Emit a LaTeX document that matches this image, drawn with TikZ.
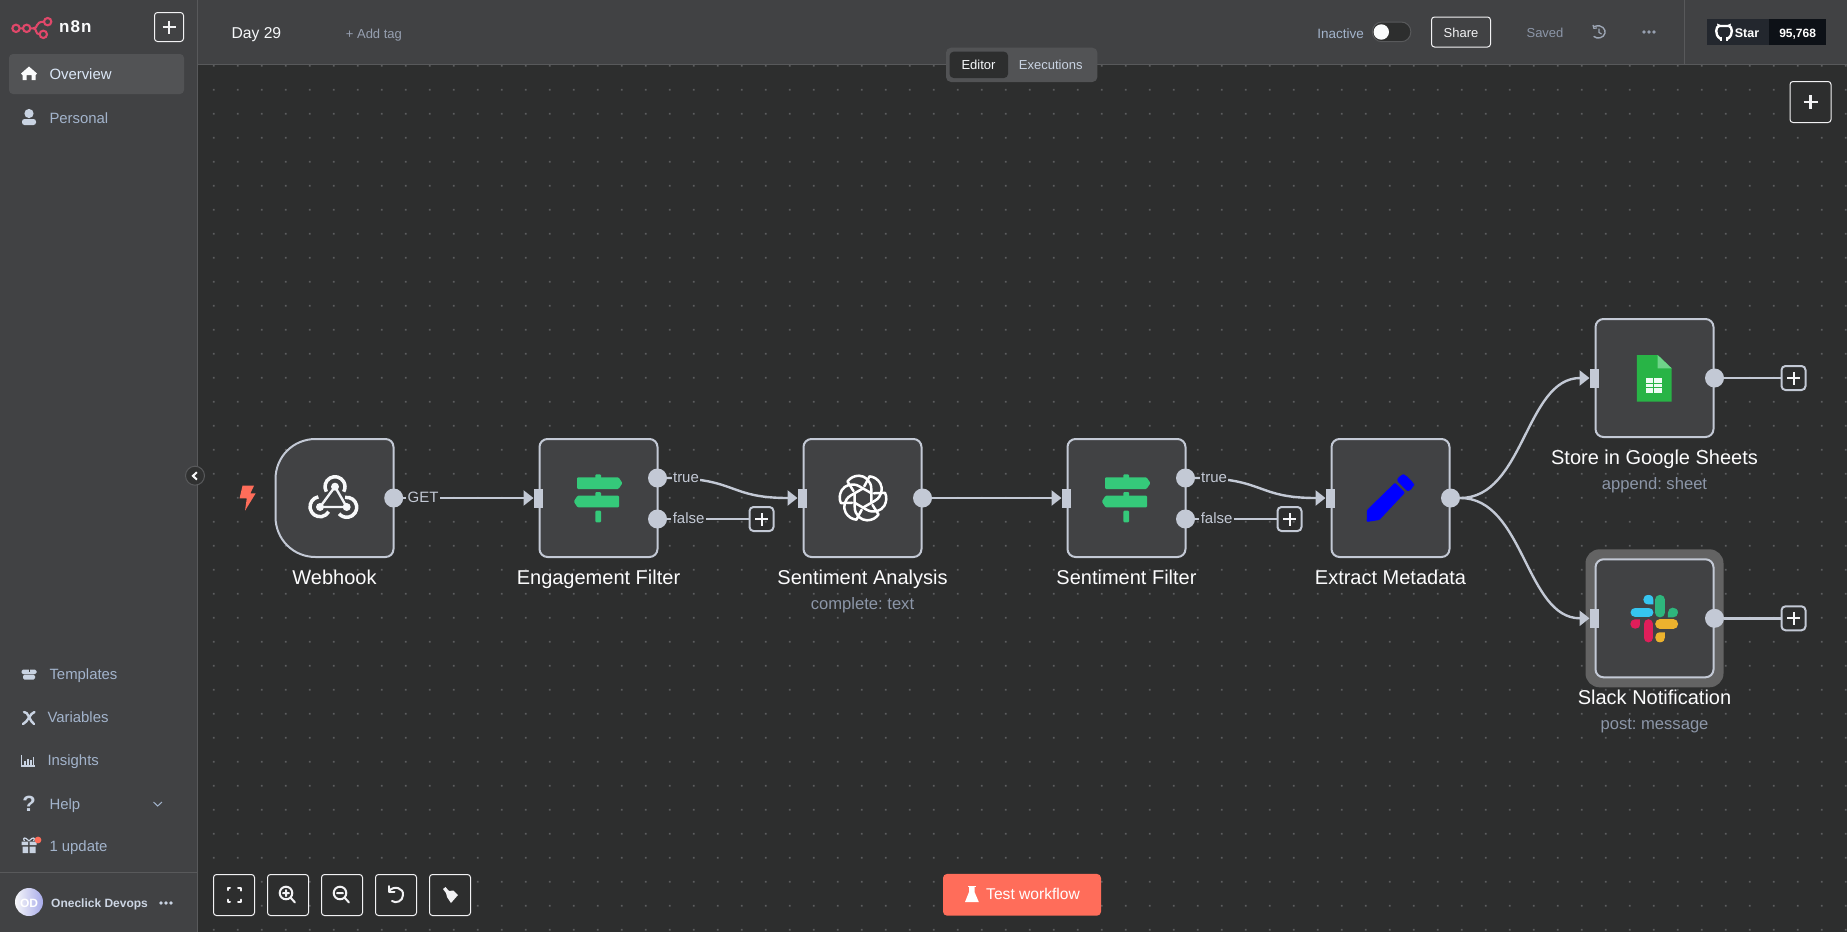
\documentclass[tikz,border=0pt]{standalone}
\usepackage{fontspec}
\setmainfont{Liberation Sans}
\usetikzlibrary{arrows.meta,calc}
\AtBeginDocument{\frenchspacing}
\definecolor{canvasc}{HTML}{2D2E2E}
\definecolor{panelc}{HTML}{414244}
\definecolor{linec}{HTML}{58595B}
\definecolor{dotc}{HTML}{5C5D5E}
\definecolor{wirec}{HTML}{C3C9D5}
\definecolor{subc}{HTML}{8C96A8}
\definecolor{navc}{HTML}{A3B4CC}
\definecolor{navhi}{HTML}{DCE8F8}
\definecolor{hic}{HTML}{525355}
\definecolor{redc}{HTML}{FF6D5A}
\definecolor{logoc}{HTML}{E0486A}
\definecolor{ifc}{HTML}{35C97A}
\definecolor{halo}{HTML}{636363}
\definecolor{iconc}{HTML}{C9D3E2}
\definecolor{btnc}{HTML}{F2F2F4}
\definecolor{starc}{HTML}{23272E}
\definecolor{cntc}{HTML}{0D1117}
\definecolor{gsg}{HTML}{28B446}
\definecolor{gsf}{HTML}{6FD48A}
\definecolor{slb}{HTML}{36C5F0}
\definecolor{slg}{HTML}{2EB67D}
\definecolor{sly}{HTML}{ECB22E}
\definecolor{slr}{HTML}{E01E5A}
\newcommand\fsz[1]{\fontsize{#1}{#1}\selectfont}
\tikzset{
  wf/.style={draw=wirec,line width=2pt,fill=panelc,rounded corners=8pt,minimum width=118pt,minimum height=118pt,inner sep=0pt},
  ghost/.style={minimum width=118pt,minimum height=118pt,inner sep=0pt},
  outp/.style={circle,fill=wirec,minimum size=19pt,inner sep=0pt},
  inp/.style={rectangle,fill=wirec,minimum width=9.6pt,minimum height=19pt,inner sep=0pt},
  wire/.style={draw=wirec,line width=2.4pt},
  wirea/.style={wire,-{Triangle[length=10pt,width=15pt]}},
  plusbox/.style={draw=wirec,line width=2pt,rounded corners=4pt,minimum size=24pt,inner sep=0pt,
    path picture={\draw[white!85!wirec,line width=2pt] ([xshift=-6.5pt]path picture bounding box.center) -- ([xshift=6.5pt]path picture bounding box.center) ([yshift=-6.5pt]path picture bounding box.center) -- ([yshift=6.5pt]path picture bounding box.center);}},
  txm/.style={anchor=mid,inner sep=0pt,yshift=-2.5pt},
  txw/.style={anchor=mid west,inner sep=0pt,yshift=-2.5pt},
  title/.style={anchor=mid,inner sep=0pt,yshift=-4.6pt,text=white!95!wirec,font=\fsz{20}},
  subt/.style={txm,yshift=-0.5pt,text=subc,font=\fsz{16.6}},
  elab/.style={anchor=mid,inner sep=1.5pt,yshift=-2pt,fill=canvasc,text=wirec,font=\fsz{15}},
  nav/.style={txw,text=navc,font=\fsz{14.9}},
  btn/.style={draw=btnc,line width=1pt,rounded corners=3pt,fill=canvasc,inner sep=0pt},
  ico/.style={draw=btnc,line width=2pt,line cap=round,line join=round},
  zo/.style={shift={#1},x=0.3333pt,y=-0.3333pt},
}
\begin{document}
\begin{tikzpicture}[x=1pt,y=-1pt]
\useasboundingbox (0,0) rectangle (1847,932);
% canvas
\fill[canvasc] (0,0) rectangle (1847,932);
\fill[dotc] \foreach \i in {0,...,68}{\foreach \j in {0,...,36}{ ({212.9+24*\i},{64.9+24*\j}) rectangle ++(1.8,1.8)}};
% top bar and sidebar
\fill[panelc] (197,0) rectangle (1847,64);
\draw[linec,line width=1pt] (197,64.4) -- (1847,64.4);
\draw[linec,line width=1pt] (1684.6,0) -- (1684.6,64);
\fill[panelc] (0,0) rectangle (197,932);
\draw[linec,line width=1pt] (197,0) -- (197,932);
% logo
\begin{scope}[zo={(0,0)}]
\draw[logoc,line width=2.1pt] (48,85) circle (11) (80,85) circle (11) (143,65) circle (11) (130,103) circle (11);
\draw[logoc,line width=2.1pt] (59,85) -- (69,85) (91,85) -- (100,85) .. controls (116,85) and (104,65) .. (132,65) (100,85) .. controls (112,85) and (104,103) .. (119,103);
\end{scope}
\node[txw,text=white!92!wirec,font=\fsz{17}\bfseries] (brand) at (59,27.5) {n\kern1pt 8\kern1pt n};
\node[btn,fill=none,draw=btnc,minimum size=29pt] (newb) at (169,27) {};
\draw[btnc,line width=2.4pt] (162.5,27) -- (175.5,27) (169,20.5) -- (169,33.5);
% nav
\fill[hic,rounded corners=4pt] (9,54) rectangle (184,94);
\node[nav,text=navhi] (nov) at (49.3,74.3) {Overview};
\node[nav] (npe) at (49.3,118) {Personal};
\node[nav] (nte) at (49.3,674.7) {Templates};
\node[nav] (nva) at (47.3,717.7) {Variables};
\node[nav] (nin) at (47.3,760.7) {Insights};
\node[nav] (nhe) at (49.3,804) {Help};
\node[nav] (nup) at (49.3,846) {1 update};
\node[nav,text=iconc!95!white,font=\fsz{12}\bfseries] (nod) at (51,902.7) {Oneclick Devops};
% nav icons
\fill[white!92!wirec] (21,73.5) -- (29,66.5) -- (37,73.5) -- (35.5,75) -- (35.5,80) -- (31.5,80) -- (31.5,75) -- (26.5,75) -- (26.5,80) -- (22.5,80) -- (22.5,75) -- cycle;
\fill[iconc] (29,113.5) circle (4.6);
\fill[iconc,rounded corners=2.5pt] (22,125) rectangle (36,119);
\fill[iconc,rounded corners=1.5pt] (21.5,669.5) rectangle (36.5,674);
\fill[iconc,rounded corners=1.5pt] (23,674.5) rectangle (35,679.5);
\draw[panelc,line width=1pt] (29,668) -- (29,672);
\draw[iconc,line width=2.4pt,line cap=round] (24,712) .. controls (28,711) and (30,722) .. (34,724);
\draw[iconc,line width=2.4pt,line cap=round] (34.5,712) .. controls (30,713) and (28,722) .. (23,724);
\draw[iconc,line width=1.2pt] (21.5,755) -- (21.5,766) -- (35,766);
\draw[iconc,line width=1.4pt] (25,765) -- (25,761) (28,765) -- (28,758.5) (31,765) -- (31,760) (33.5,765) -- (33.5,757);
\node[txm,text=iconc,font=\fsz{22}\bfseries,yshift=-2.5pt] (qm) at (29,804) {?};
\draw[navc,line width=1pt] (153.5,802) -- (157.7,806) -- (162,802);
\fill[iconc] (21.5,841.5) rectangle (28,845) (29.5,841.5) rectangle (36.5,845) (22.5,846.5) rectangle (28,853) (29.5,846.5) rectangle (35.5,853);
\draw[iconc,line width=1.2pt] (29,841) .. controls (25,836) and (22,838) .. (24.5,841) (29,841) .. controls (33,836) and (36,838) .. (33.5,841);
\fill[redc] (38,840) circle (3.4);
\draw[linec,line width=1pt] (0,872.3) -- (197,872.3);
\shade[left color=white!85!wirec,right color=white!55!blue!50!wirec,draw=none] (29,902) circle (14);
\node[txm,text=white,font=\fsz{12}\bfseries] (odt) at (29,902) {OD};
\fill[iconc] (161,903) circle (1.9) (166,903) circle (1.9) (171,903) circle (1.9);
% collapse
\draw[linec,fill=canvasc!85!panelc,line width=1pt] (195,475.7) circle (9.5);
\draw[white!90!wirec,line width=2pt] (196.9,472.2) -- (192.9,475.9) -- (196.9,479.6);
% header texts
\node[txw,text=white!90!navc,font=\fsz{15.7}] (day) at (231.3,33) {Day 29};
\node[txw,text=subc!90!white,font=\fsz{13}] (addt) at (345.7,33) {+ Add tag};
\fill[hic,rounded corners=5pt] (946,47.7) rectangle (1097.4,82);
\fill[canvasc,rounded corners=4pt] (949.6,51.7) rectangle (1008,78);
\node[txm,text=white!90!navc,font=\fsz{13}] (sed) at (978.5,64.7) {Editor};
\node[txm,text=iconc,font=\fsz{13}] (sex) at (1050.7,64.7) {Executions};
\node[txm,text=navc,font=\fsz{13.5}] (ina) at (1340.5,33) {Inactive};
\draw[linec,fill=canvasc,line width=1pt,rounded corners=9.5pt] (1372.4,22) rectangle (1410.8,41.7);
\fill[white!95!navc] (1381.3,32) circle (7.7);
\node[btn,fill=panelc,minimum width=59pt,minimum height=30pt] (sha) at (1461,32) {};
\node[txm,text=btnc,font=\fsz{13}] (shat) at (1461,32) {Share};
\node[txm,text=subc,font=\fsz{13}] (sav) at (1545,32) {Saved};
\draw[subc!85!white,line width=1.4pt,line cap=round] (1594.5,26.5) .. controls (1602,23.5) and (1606,30) .. (1605,33) .. controls (1604,38) and (1597,39.5) .. (1594,36.5);
\draw[subc!85!white,line width=1.2pt] (1593,25) -- (1593.8,28.3) -- (1597,28) (1599,28.5) -- (1599,32.5) -- (1601.5,34);
\fill[subc!90!white] (1644,32) circle (1.9) (1649,32) circle (1.9) (1654,32) circle (1.9);
\fill[starc] (1706.5,18.7) rectangle (1768.6,45);
\fill[cntc] (1768.6,18.7) rectangle (1826,45);
% github mark
\draw[white,line width=2.4pt] (1720.5,38.8) .. controls (1714,35) and (1716,26) .. (1719,26) -- (1729,26) .. controls (1732,26) and (1734,35) .. (1727.5,38.8);
\fill[white] (1717,23.5) -- (1721.5,25.5) -- (1718,28) -- cycle (1731,23.5) -- (1726.5,25.5) -- (1730,28) -- cycle;
\draw[white,line width=2pt] (1721,36.5) -- (1721,40.5) (1727,36.5) -- (1727,40.5);
\node[txm,text=white,font=\fsz{12.5}\bfseries] (star) at (1747,32) {Star};
\node[txm,text=white,font=\fsz{12}\bfseries] (cnt) at (1797.6,32) {95,768};
% top-right plus
\node[btn,minimum width=41pt,minimum height=41pt] (addn) at (1810.5,102) {};
\draw[btnc,line width=2.4pt] (1803.5,102) -- (1817.5,102) (1810.5,95) -- (1810.5,109);
% bottom toolbar
\foreach \n/\cx in {b1/234,b2/288,b3/342,b4/396,b5/450}{\node[btn,minimum size=41pt] (\n) at (\cx,895) {};}
\draw[ico] (227.5,890) -- (227.5,888) -- (230,888) (238,888) -- (240.5,888) -- (240.5,890.5) (240.5,899.5) -- (240.5,902) -- (238,902) (230,902) -- (227.5,902) -- (227.5,899.5);
\draw[ico] (286,893) circle (6.3) (290.5,897.5) -- (295,902.5) (283,893) -- (289,893) (286,890) -- (286,896);
\draw[ico] (340,893) circle (6.3) (344.5,897.5) -- (349,902.5) (337,893) -- (343,893);
\draw[ico] (389,891) .. controls (394,885) and (404,888) .. (403,895) .. controls (403,901) and (396,904) .. (392,901);
\draw[ico] (389,886) -- (389,891.5) -- (394.5,891.5);
\fill[btnc] (443,889) -- (445.5,887) -- (449,891) -- (453.5,890.5) -- (458,895) -- (451,903) -- (447,897) -- (446,893) -- cycle;
% test button
\node[fill=redc,rounded corners=4pt,minimum width=158pt,minimum height=41.7pt,inner sep=0pt] (tb) at (1022,894.8) {};
\node[txw,text=white,font=\fsz{15.6}] (tbt) at (986,894.5) {Test workflow};
\fill[white] (969,886) -- (974.5,886) -- (974.5,892) -- (978.8,902) -- (965,902) -- (969,892) -- cycle;
\draw[white,line width=1pt] (968,886) -- (975.5,886);
% workflow nodes
\node[ghost] (wh) at (334.5,498) {};
\draw[draw=wirec,line width=2pt,fill=panelc] (315.5,439) -- (385.5,439) .. controls (390,439) and (393.5,442.5) .. (393.5,447) -- (393.5,549) .. controls (393.5,553.5) and (390,557) .. (385.5,557) -- (315.5,557) .. controls (293,557) and (275.5,539) .. (275.5,517) -- (275.5,479) .. controls (275.5,457) and (293,439) .. (315.5,439) -- cycle;
\node[wf] (ef) at (598.5,498) {};
\node[wf] (sa) at (862.5,498) {};
\node[wf] (sf) at (1126.5,498) {};
\node[wf] (em) at (1390.5,498) {};
\node[wf] (gs) at (1654.5,378) {};
\node[fill=halo,rounded corners=14pt,minimum width=138pt,minimum height=138pt,inner sep=0pt] (sh) at (1654.5,618.3) {};
\node[wf] (sl) at (1654.5,618.3) {};
% titles
\node[title] (t1) at (334.5,577.7) {Webhook};
\node[title] (t2) at (598.5,577.7) {Engagement Filter};
\node[title] (t3) at (862.5,577.7) {Sentiment Analysis};
\node[subt] (s3) at (862.5,604) {complete: text};
\node[title] (t4) at (1126.5,577.7) {Sentiment Filter};
\node[title] (t5) at (1390.5,577.7) {Extract Metadata};
\node[title] (t6) at (1654.5,457.7) {Store in Google Sheets};
\node[subt] (s6) at (1654.5,484.3) {append: sheet};
\node[title] (t7) at (1654.5,697.7) {Slack Notification};
\node[subt] (s7) at (1654.5,724.3) {post: message};
% ports
\node[outp] (wh-o) at (wh.east) {};
\node[inp] (ef-i) at (ef.west) {};
\node[outp] (ef-t) at (657.5,478) {};
\node[outp] (ef-f) at (657.5,519) {};
\node[inp] (sa-i) at (sa.west) {};
\node[outp] (sa-o) at (sa.east) {};
\node[inp] (sf-i) at (sf.west) {};
\node[outp] (sf-t) at (1185.5,478) {};
\node[outp] (sf-f) at (1185.5,519) {};
\node[inp] (em-i) at (em.west) {};
\node[outp] (em-o) at (em.east) {};
\node[inp] (gs-i) at (gs.west) {};
\node[outp] (gs-o) at (gs.east) {};
\node[inp] (sl-i) at (sl.west) {};
\node[outp] (sl-o) at (sl.east) {};
% plus boxes
\node[plusbox] (p1) at (761.5,519) {};
\node[plusbox] (p2) at (1289.5,519) {};
\node[plusbox] (p3) at (1793.5,378) {};
\node[plusbox] (p4) at (1793.5,618.3) {};
% wires
\draw[wirea] (wh-o.east) -- (ef-i.west);
\draw[wirea] (ef-t.east) .. controls ($(ef-t.east)+(70,0)$) and ($(sa-i.west)+(-70,0)$) .. (sa-i.west);
\draw[wire] (ef-f.east) -- (p1.west);
\draw[wirea] (sa-o.east) -- (sf-i.west);
\draw[wirea] (sf-t.east) .. controls ($(sf-t.east)+(70,0)$) and ($(em-i.west)+(-70,0)$) .. (em-i.west);
\draw[wire] (sf-f.east) -- (p2.west);
\draw[wirea] (em-o.east) .. controls ($(em-o.east)+(64,0)$) and ($(gs-i.west)+(-64,0)$) .. (gs-i.west);
\draw[wirea] (em-o.east) .. controls ($(em-o.east)+(64,0)$) and ($(sl-i.west)+(-64,0)$) .. (sl-i.west);
\draw[wire] (gs-o.east) -- (p3.west);
\draw[wire] (sl-o.east) -- (p4.west);
% edge labels
\node[elab] (lg) at (423,498) {GET};
\node[elab] (lt1) at (686,478) {true};
\node[elab] (lf1) at (688.6,519) {false};
\node[elab] (lt2) at (1214,478) {true};
\node[elab] (lf2) at (1216.6,519) {false};
% lightning
\fill[redc] (242.5,485.7) -- (254,485.7) -- (250.4,493.3) -- (255.7,493.3) -- (245,510.7) -- (246.8,498.3) -- (239.6,498.3) -- cycle;
% webhook icon
\begin{scope}[shift={(334,498)},y=1pt]
\draw[white!88!wirec,line width=3.5pt] (-7.66,6.3) arc[start angle=210,end angle=-30,radius=10];
\draw[white!88!wirec,line width=3.5pt] (-15.7,1.15) arc[start angle=100,end angle=330,radius=10];
\draw[white!88!wirec,line width=3.5pt] (11,0.55) arc[start angle=100,end angle=-140,radius=10];
\draw[white!80!wirec,line width=2.4pt] (1,11.3) -- (-14,-9) -- (12.7,-9) -- cycle;
\fill[white!85!wirec] (1,11.3) circle (4) (-14,-9) circle (4) (12.7,-9) circle (4);
\end{scope}
% IF icons
\foreach \cx in {0,528}{
\begin{scope}[shift={(\cx,0)}]
\fill[ifc,rounded corners=1pt] (595.4,474.3) rectangle (601,480) (595.4,492) rectangle (601,497) (595.4,510.7) rectangle (601,522.3);
\fill[ifc,rounded corners=1pt] (577.1,477.3) -- (618.5,477.3) -- (622.5,483.1) -- (618.5,489) -- (577.1,489) -- cycle;
\fill[ifc,rounded corners=1pt] (619,495.7) -- (577.5,495.7) -- (573.8,501.5) -- (577.5,507.3) -- (619,507.3) -- cycle;
\end{scope}}
% OpenAI icon
\begin{scope}[shift={(863,498)},y=1pt]
\foreach \a in {0,60,...,300}{
\draw[white,line width=2.5pt,line cap=round,line join=round,rotate=\a] (8.3,-5) -- (8.3,9) .. controls (8.3,17) and (2,22.3) .. (-4,22.3) .. controls (-9,22.3) and (-13,20) .. (-15.5,16.5) -- (-9.5,7);
}
\end{scope}
% pencil, sheets, slack
\begin{scope}[zo={(1340,300)}]
\fill[blue,rounded corners=1pt] (81,630) -- (165,548) -- (195,578) -- (118,660) -- (80,666) -- cycle;
\fill[blue,rounded corners=3pt] (168,540) -- (185,523) -- (195,523) -- (222,550) -- (222,558) -- (205,577) -- cycle;
\fill[gsg] (891,165) -- (953,165) -- (995,205) -- (995,305) -- (891,305) -- cycle;
\fill[gsf] (953,165) -- (995,205) -- (953,205) -- cycle;
\fill[white!92!ifc] (917,235) rectangle (967,278);
\draw[gsg,line width=1pt] (917,250) -- (967,250) (917,264) -- (967,264) (940,235) -- (940,278);
\draw[line cap=round,line width=9.6pt,draw=slb] (886,937) -- (926,937);
\draw[line cap=round,line width=9.6pt,draw=slg] (960,899) -- (960,938);
\draw[line cap=round,line width=9.6pt,draw=sly] (960,972) -- (1000,972);
\draw[line cap=round,line width=9.6pt,draw=slr] (925,972) -- (925,1013);
\fill[slb] (925,885) .. controls (935,885) and (940,890) .. (940,900) -- (940,913) -- (925,913) .. controls (905,913) and (905,885) .. (925,885);
\fill[slg] (1014,938) .. controls (1014,928) and (1006,923) .. (998,923) .. controls (990,923) and (984,930) .. (984,938) -- (984,952) -- (1000,952) .. controls (1008,952) and (1014,946) .. (1014,938);
\fill[sly] (960,1027) .. controls (970,1027) and (975,1020) .. (975,1012) -- (975,997) -- (960,997) .. controls (941,997) and (941,1027) .. (960,1027);
\fill[slr] (871,972) .. controls (871,964) and (877,958) .. (885,958) -- (900,958) -- (900,972) .. controls (900,992) and (871,990) .. (871,972);
\end{scope}
\end{tikzpicture}
\end{document}
